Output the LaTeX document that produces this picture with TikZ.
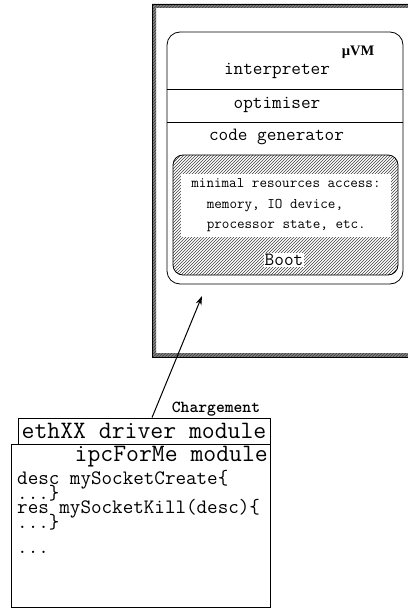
\documentclass[tikz,border=0pt]{standalone}
\usepackage{fontspec}
\newfontfamily\vmfont{Liberation Serif}
\usetikzlibrary{arrows.meta}
\usetikzlibrary{patterns}

\begin{document}
\begin{tikzpicture}[x=1pt,y=-1pt,
  box/.style={draw, line width=0.8pt, inner sep=0pt},
  hatch/.style={pattern=north east lines, pattern color=black!75},
  txt/.style={inner sep=0pt, font=\ttfamily\fontsize{18.7}{20}\selectfont},
  code/.style={inner sep=0pt, anchor=base west, font=\ttfamily\fontsize{20.5}{22}\selectfont}]
\useasboundingbox (0,0) rectangle (407,609);
% hatched frame of the target
\fill[black!50, even odd rule] (152,4) rectangle (440,357) (156,8) rectangle (440,353);
\fill[hatch, even odd rule] (152,4) rectangle (440,357) (156,8) rectangle (440,353);
\draw[line width=0.6pt] (440,4) -- (152,4) -- (152,357) -- (440,357);
% the vm
\node[box, rounded corners=13pt, minimum width=236pt, minimum height=252pt] (vm) at (285,158) {};
\draw[line width=0.6pt] (vm.west |- 0,89) -- (vm.east |- 0,89);
\draw[line width=0.6pt] (vm.west |- 0,122) -- (vm.east |- 0,122);
\node[inner sep=0pt, font=\vmfont\bfseries\fontsize{14.5}{16}\selectfont] (name) at (358,52) {µVM};
\node[txt] (interp) at (277,71) {interpreter};
\node[txt] (optim) at (277,105) {optimiser};
\node[txt] (codegen) at (276.5,137) {code generator};
% boot part
\node[box, hatch, rounded corners=10pt, minimum width=225pt, minimum height=120pt] (bootarea) at (285.5,215) {};
\node[fill=white, minimum width=210pt, minimum height=63pt, align=left,
  font=\ttfamily\fontsize{14.7}{20.5}\selectfont] (access) at (286,205.5)
  {minimal resources access:\\\hspace*{1.05em}memory, IO device,\\\hspace*{1.05em}processor state, etc.};
\node[txt, fill=white, inner sep=1pt] (boot) at (284,260) {Boot};
% modules
\node[box, minimum width=252pt, minimum height=26pt] (eth) at (144,431) {};
\node[inner sep=0pt, font=\ttfamily\fontsize{25}{26}\selectfont] (ethtxt) at (eth.center) {ethXX driver module};
\node[box, fill=white, minimum width=259pt, minimum height=163pt] (ipc) at (140.5,525.5) {};
\node[inner sep=0pt, anchor=base east, font=\ttfamily\fontsize{25}{26}\selectfont] (ipctxt) at (268,461) {ipcForMe module};
\node[code] (l1) at (17,484) {desc mySocketCreate\{};
\node[code] (l2) at (17,499) {...\}};
\node[code] (l3) at (17,513) {res mySocketKill(desc)\{};
\node[code] (l4) at (17,528) {...\}};
\node[code] (l5) at (17,553) {...};
% loading
\node[inner sep=0pt, anchor=base, font=\ttfamily\bfseries\fontsize{16.8}{18}\selectfont] (charg) at (216,412) {Chargement};
\coordinate (load) at (202,296);
\draw[line width=1pt, -{Stealth[length=9pt,width=6pt]}] ([xshift=8pt]eth.north) -- (load);
\end{tikzpicture}
\end{document}
